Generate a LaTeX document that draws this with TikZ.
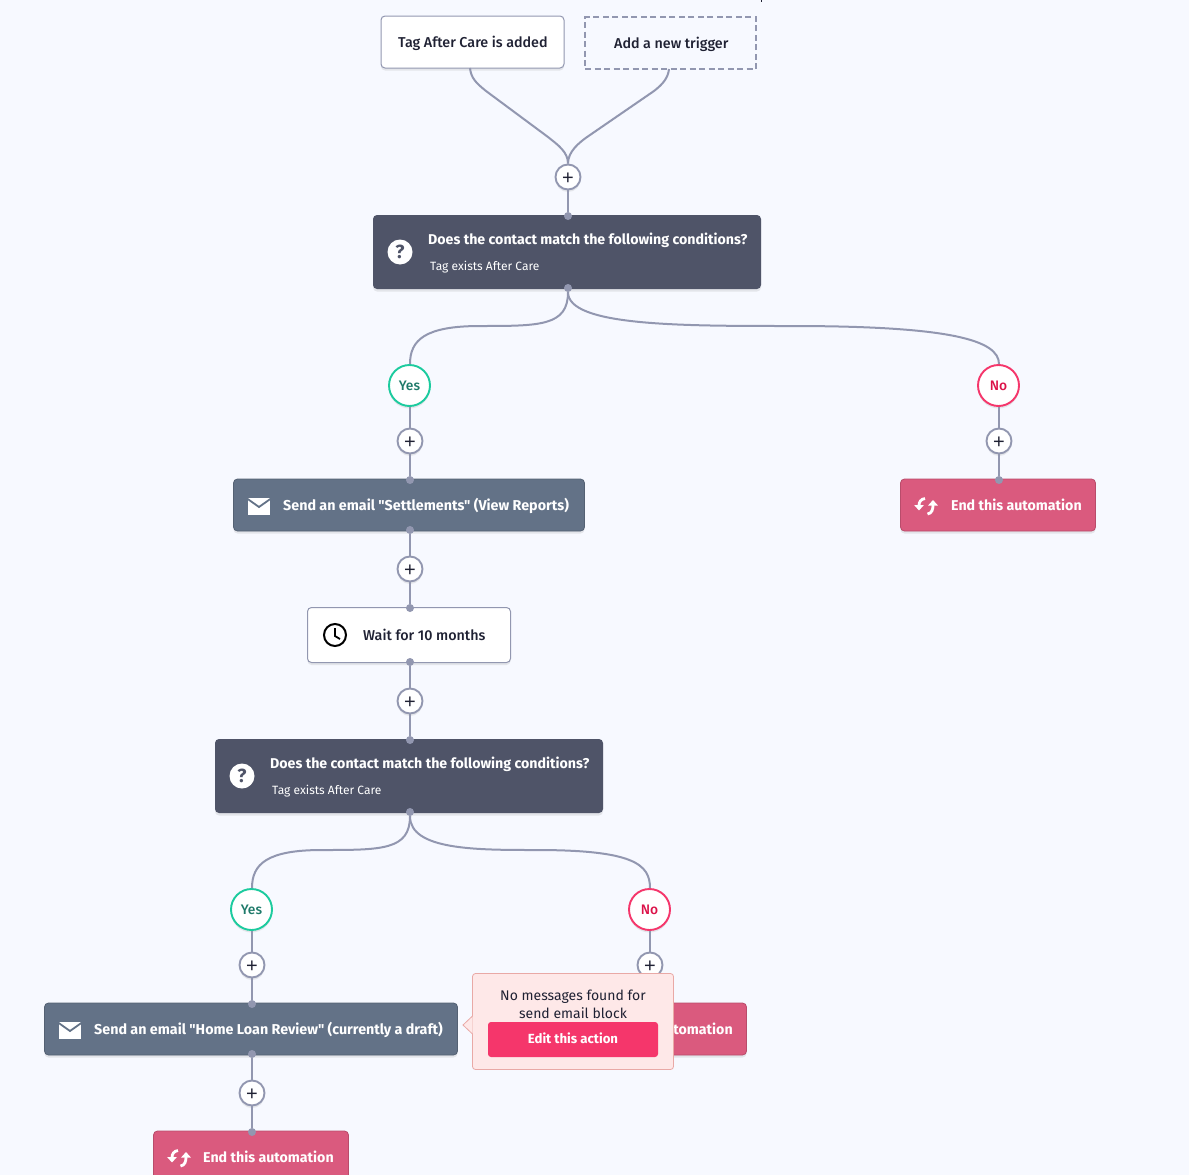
\documentclass[tikz,border=0pt]{standalone}
\usepackage{fontspec}
\setmainfont{Fira Sans}[Ligatures=TeXOff]
\newfontfamily\mediumfont{Fira Sans Medium}[Ligatures=TeXOff]
\newfontfamily\plusfont{Liberation Sans}
\usetikzlibrary{shadows,arrows.meta}
\definecolor{PAGEBG}{HTML}{F7F9FF}
\definecolor{LINKC}{HTML}{9297B0}
\definecolor{CONDC}{HTML}{4F5468}
\definecolor{MAILC}{HTML}{637287}
\definecolor{ENDC}{HTML}{DA5A7E}
\definecolor{YESC}{HTML}{1CCB9E}
\definecolor{YEST}{HTML}{1F7A6A}
\definecolor{NOC}{HTML}{F5366B}
\definecolor{NOT}{HTML}{DC1249}
\definecolor{POPC}{HTML}{FEE8E8}
\definecolor{POPL}{HTML}{E9A9A6}
\definecolor{INK}{HTML}{1F2133}
\tikzset{
LINK/.style={draw=LINKC,line width=2pt},
SHADE/.style={drop shadow={shadow xshift=0pt,shadow yshift=-2.5pt,opacity=0.16}},
BOX/.style={rectangle,rounded corners=4pt,inner sep=0pt,minimum height=#1,SHADE},
BOX/.default=52pt,
WHITEBOX/.style={BOX,fill=white,draw=LINKC,line width=1pt},
NEWBOX/.style={rectangle,inner sep=0pt,minimum height=52pt,draw=LINKC,line width=1.8pt,dash pattern=on 6pt off 3.5pt},
CONDBOX/.style={BOX=74pt,fill=CONDC,minimum width=388pt},
MAILBOX/.style={BOX,fill=MAILC,draw=MAILC!85!black,line width=.8pt},
ENDBOX/.style={BOX,fill=ENDC,draw=ENDC!85!black,line width=.8pt,minimum width=195pt},
DOT/.style={circle,fill=LINKC,inner sep=0pt,minimum size=8pt},
PLUS/.style={circle,fill=white,draw=LINKC,line width=1.9pt,inner sep=0pt,minimum size=25pt,SHADE,text=INK,text height=15pt,text depth=0pt,font=\plusfont\fontsize{20}{20}\selectfont},
ANSWER/.style={circle,fill=white,line width=1.9pt,inner sep=0pt,minimum size=41pt,SHADE,text height=10pt,text depth=0pt,font=\mediumfont\fontsize{13.8}{15}\selectfont},
YES/.style={ANSWER,draw=YESC,text=YEST},
NOPE/.style={ANSWER,draw=NOC,text=NOT},
DARKTEXT/.style={anchor=west,inner sep=0pt,text height=10pt,text depth=0pt,text=INK,font=\mediumfont\fontsize{14.3}{16}\selectfont},
LIGHTTEXT/.style={anchor=west,inner sep=0pt,text height=10pt,text depth=0pt,text=white,font=\fontsize{14.2}{16}\selectfont\bfseries},
MAILTEXT/.style={LIGHTTEXT,font=\fontsize{14.3}{16}\selectfont\bfseries},
SMALLTEXT/.style={anchor=west,inner sep=0pt,text height=9pt,text depth=0pt,text=white,font=\fontsize{12}{14}\selectfont},
QUESTION/.pic={
	\fill[white] (0,0) circle (12.5);
	\node[text=CONDC,font=\fontsize{19}{19}\selectfont\bfseries] at (0,0) {?};
},
MAILICON/.pic={
	\fill[white] (-11,-8.5) rectangle (11,8.5);
	\draw[MAILC,line width=1.8pt] (-12,-7.5) -- (0,1) -- (12,-7.5);
},
CLOCKICON/.pic={
	\draw[black,line width=2pt] (0,0) circle (11);
	\draw[black,line width=1.8pt] (0,-7) -- (0,1) -- (5,4);
},
ENDICON/.pic={
	\draw[white,line width=2.8pt,-{Triangle[width=9.5pt,length=5.5pt]}] (-1,-7.5) .. controls (-5,-7) and (-7,-4) .. (-7,4.5);
	\draw[white,line width=2.8pt,-{Triangle[width=9.5pt,length=5.5pt]}] (1.5,8) .. controls (6,7.5) and (7,3) .. (7,-6);
},
}

\begin{document}
\begin{tikzpicture}[x=1pt,y=-1pt]
	\useasboundingbox (0,0) rectangle (1189,1175);
	\clip (0,0) rectangle (1189,1175);
	\fill[PAGEBG] (0,0) rectangle (1189,1175);
	\fill[INK] (760.5,0) rectangle (762,2);
	%Triggers
	\node[WHITEBOX,minimum width=183pt] (tag) at (472.5,42) {};
	\node[DARKTEXT] (tagtext) at (398,42) {Tag After Care is added};
	\node[NEWBOX,minimum width=171pt] (newtrigger) at (670.5,43) {};
	\node[DARKTEXT] (newtext) at (614,43) {Add a new trigger};
	\coordinate (tagout) at (470,68);
	\coordinate (newout) at (669,69);
	\node[PLUS] (plusa) at (568,177) {+};
	%First condition
	\node[CONDBOX] (conda) at (567,252) {};
	\pic at (400,252) {QUESTION};
	\node[LIGHTTEXT] (condatext) at (428,239) {Does the contact match the following conditions?};
	\node[SMALLTEXT] (condasub) at (430,266) {Tag exists After Care};
	\node[DOT] (condain) at (568,216) {};
	\node[DOT] (condaout) at (568,288) {};
	\node[YES] (yesa) at (409.5,385.5) {Yes};
	\node[NOPE] (noa) at (998.5,385.5) {No};
	\node[PLUS] (plusb) at (410,441) {+};
	\node[PLUS] (plusc) at (999,441) {+};
	%Settlements and wait
	\node[MAILBOX,minimum width=351pt] (maila) at (409,505) {};
	\pic at (259,506) {MAILICON};
	\node[MAILTEXT] (mailatext) at (283,505) {Send an email "Settlements" (View Reports)};
	\node[DOT] (mailain) at (410,480) {};
	\node[DOT] (mailaout) at (410,530) {};
	\node[ENDBOX] (enda) at (998,505) {};
	\pic at (926,506) {ENDICON};
	\node[LIGHTTEXT] (endatext) at (951,505) {End this automation};
	\node[DOT] (endain) at (999,480) {};
	\node[PLUS] (plusd) at (410,569) {+};
	\node[WHITEBOX,minimum width=203pt,minimum height=55pt] (wait) at (409,635) {};
	\pic at (335,635) {CLOCKICON};
	\node[DARKTEXT] (waittext) at (363,635) {Wait for 10 months};
	\node[DOT] (waitin) at (410,608) {};
	\node[DOT] (waitout) at (410,662) {};
	\node[PLUS] (pluse) at (410,701) {+};
	%Second condition
	\node[CONDBOX] (condb) at (409,776) {};
	\pic at (242,776) {QUESTION};
	\node[LIGHTTEXT] (condbtext) at (270,763) {Does the contact match the following conditions?};
	\node[SMALLTEXT] (condbsub) at (272,790) {Tag exists After Care};
	\node[DOT] (condbin) at (410,740) {};
	\node[DOT] (condbout) at (410,812) {};
	\node[YES] (yesb) at (251.5,909.5) {Yes};
	\node[NOPE] (nob) at (649.5,909.5) {No};
	\node[PLUS] (plusf) at (252,965) {+};
	\node[PLUS] (plusg) at (650,965) {+};
	%Home loan review
	\node[MAILBOX,minimum width=413pt] (mailb) at (251,1029) {};
	\pic at (70,1030) {MAILICON};
	\node[MAILTEXT] (mailbtext) at (94,1029) {Send an email "Home Loan Review" (currently a draft)};
	\node[DOT] (mailbin) at (252,1004) {};
	\node[DOT] (mailbout) at (252,1054) {};
	\node[ENDBOX] (endb) at (649,1029) {};
	\node[LIGHTTEXT] (endbtext) at (602,1029) {End this automation};
	\node[PLUS] (plush) at (252,1093) {+};
	\node[ENDBOX,minimum height=54pt] (endc) at (251,1158) {};
	\pic at (179,1158) {ENDICON};
	\node[LIGHTTEXT] (endctext) at (203,1157) {End this automation};
	\node[DOT] (endcin) at (252,1132) {};
	%Connectors
	\path[LINK] (tagout) .. controls (471,78) and (476,83) .. (486,91) -- (548,137) .. controls (558,145) and (568,152) .. (plusa.north);
	\path[LINK] (newout) .. controls (668,78) and (663,84) .. (654,91) -- (590,135) .. controls (578,143) and (568,152) .. (plusa.north);
	\path[LINK] (plusa) -- (condain);
	\path[LINK] (condaout) .. controls +(0,38) and +(60,0) .. (480,326) .. controls (425,326) and (plusb |- 0,340) .. (plusb |- yesa.north);
	\path[LINK] (condaout) .. controls +(0,38) and +(-110,0) .. (790,326) .. controls (950,326) and (plusc |- 0,340) .. (plusc |- noa.north);
	\path[LINK] (plusb |- yesa.south) -- (plusb);
	\path[LINK] (plusb) -- (mailain);
	\path[LINK] (plusc |- noa.south) -- (plusc);
	\path[LINK] (plusc) -- (endain);
	\path[LINK] (mailaout) -- (plusd);
	\path[LINK] (plusd) -- (waitin);
	\path[LINK] (waitout) -- (pluse);
	\path[LINK] (pluse) -- (condbin);
	\path[LINK] (condbout) .. controls +(0,38) and +(60,0) .. (322,850) .. controls (267,850) and (plusf |- 0,864) .. (plusf |- yesb.north);
	\path[LINK] (condbout) .. controls +(0,38) and +(-60,0) .. (536,850) .. controls (633,850) and (plusg |- 0,864) .. (plusg |- nob.north);
	\path[LINK] (plusf |- yesb.south) -- (plusf);
	\path[LINK] (plusf) -- (mailbin);
	\path[LINK] (plusg |- nob.south) -- (plusg);
	\path[LINK] (plusg) -- (plusg |- endb.north);
	\path[LINK] (mailbout) -- (plush);
	\path[LINK] (plush) -- (endcin);
	%Warning popup
	\node[rectangle,rounded corners=3pt,fill=POPC,draw=POPL,line width=.8pt,inner sep=0pt,minimum width=201pt,minimum height=96pt] (popup) at (573,1021.5) {};
	\draw[POPL,fill=POPC,line width=.8pt] (472.5,1016) -- (463,1025) -- (472.5,1034);
	\fill[POPC] (472.5,1016) -- (473.5,1016) -- (473.5,1034) -- (472.5,1034) -- cycle;
	\node[align=center,inner sep=0pt,text=INK,font=\fontsize{14}{17.5}\selectfont] (popuptext) at (573,1004.5) {No messages found for\\send email block};
	\node[rectangle,rounded corners=3pt,fill=NOC,inner sep=0pt,minimum width=170pt,minimum height=35pt,text=white,text height=9.5pt,text depth=1.5pt,font=\fontsize{13.2}{16}\selectfont\bfseries] (editbutton) at (573,1039.5) {Edit this action};
\end{tikzpicture}
\end{document}
